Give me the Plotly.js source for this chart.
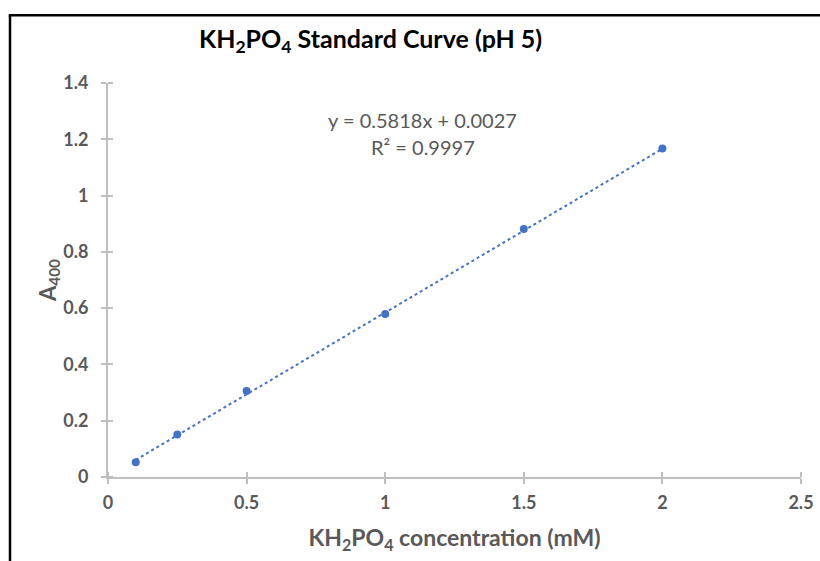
<!DOCTYPE html>
<html>
<head>
<meta charset="utf-8">
<script src="https://cdn.plot.ly/plotly-3.0.1.min.js"></script>
<style>
  html, body { margin: 0; padding: 0; background: #fff; }
  #chart { width: 820px; height: 561px; }
</style>
</head>
<body>
<div id="chart"></div>
<script>
// Data
const concentration = [0.1, 0.25, 0.5, 1, 1.5, 2];          // KH2PO4 (mM)
const absorbance    = [0.052, 0.151, 0.306, 0.579, 0.881, 1.167]; // A400
// Trendline reported on the chart
const slope = 0.5818;
const intercept = 0.0027;
const rSquared = 0.9997;
const xTicks = [0, 0.5, 1, 1.5, 2, 2.5];
const yTicks = [0, 0.2, 0.4, 0.6, 0.8, 1, 1.2, 1.4];

const FONT = 'Lato, "Open Sans", sans-serif';
const GRAY = '#595959';
const AXIS = '#BFBFBF';
const BLUE = '#4472C4';

const trendX = [Math.min(...concentration), Math.max(...concentration)];
const trendY = trendX.map(x => slope * x + intercept);

const traces = [
  {
    x: trendX, y: trendY, type: 'scatter', mode: 'lines',
    line: { color: BLUE, width: 2, dash: 'dot' },
    hoverinfo: 'skip', showlegend: false
  },
  {
    x: concentration, y: absorbance, type: 'scatter', mode: 'markers',
    marker: { color: BLUE, size: 8 },
    showlegend: false
  }
];

const tickFont = { family: FONT, size: 18, color: GRAY, weight: 700 };
const bold = s => '<b>' + s + '</b>';

const layout = {
  width: 820, height: 561,
  margin: { l: 108, r: 19, t: 83, b: 84 },
  paper_bgcolor: '#fff', plot_bgcolor: '#fff',
  font: { family: FONT, color: GRAY, size: 16 },
  showlegend: false,
  title: {
    text: bold('KH<sub>2</sub>PO<sub>4</sub> Standard Curve (pH 5)'),
    font: { family: FONT, size: 25, color: '#000', weight: 700 },
    xref: 'container', yref: 'container',
    x: 0.452, y: 0.93, xanchor: 'center', yanchor: 'middle'
  },
  xaxis: {
    range: [0, 2.5], tickvals: xTicks, ticktext: xTicks.map(v => bold(String(v))),
    showgrid: false, zeroline: false,
    showline: true, linecolor: AXIS, linewidth: 2,
    ticks: 'outside', ticklen: 5, tickwidth: 2, tickcolor: AXIS,
    minor: { tickvals: xTicks, ticks: 'inside', ticklen: 5, tickwidth: 2, tickcolor: AXIS, showgrid: false },
    tickfont: tickFont, ticklabelstandoff: 3,
    title: {
      text: bold('KH<sub>2</sub>PO<sub>4</sub> concentration (mM)'),
      font: { family: FONT, size: 23, color: GRAY, weight: 700 },
      standoff: 18
    },
    fixedrange: true
  },
  yaxis: {
    range: [0, 1.4], tickvals: yTicks, ticktext: yTicks.map(v => bold(String(v))),
    showgrid: false, zeroline: false,
    showline: true, linecolor: AXIS, linewidth: 2,
    ticks: 'outside', ticklen: 5, tickwidth: 2, tickcolor: AXIS,
    minor: { tickvals: yTicks, ticks: 'inside', ticklen: 5, tickwidth: 2, tickcolor: AXIS, showgrid: false },
    tickfont: tickFont, ticklabelstandoff: 9,
    title: {
      text: bold('A<sub>400</sub>'),
      font: { family: FONT, size: 22, color: GRAY, weight: 700 },
      standoff: 0
    },
    fixedrange: true
  },
  annotations: [
    {
      xref: 'x', yref: 'y', x: 1.136, y: 1.267,
      text: 'y = ' + slope.toFixed(4) + 'x + ' + intercept.toFixed(4),
      showarrow: false, font: { family: FONT, size: 20, color: GRAY }
    },
    {
      xref: 'x', yref: 'y', x: 1.136, y: 1.172,
      text: 'R² = ' + rSquared.toFixed(4),
      showarrow: false, font: { family: FONT, size: 20, color: GRAY }
    }
  ],
  shapes: [
    { type: 'line', xref: 'paper', yref: 'paper',
      x0: -0.1414, x1: -0.1414, y0: -0.25, y1: 1.172,
      line: { color: '#000', width: 2.5 } },
    { type: 'line', xref: 'paper', yref: 'paper',
      x0: -0.1432, x1: 1.05, y0: 1.172, y1: 1.172,
      line: { color: '#000', width: 2.5 } }
  ]
};

Plotly.newPlot('chart', traces, layout, { displayModeBar: false, staticPlot: true });
</script>
</body>
</html>
